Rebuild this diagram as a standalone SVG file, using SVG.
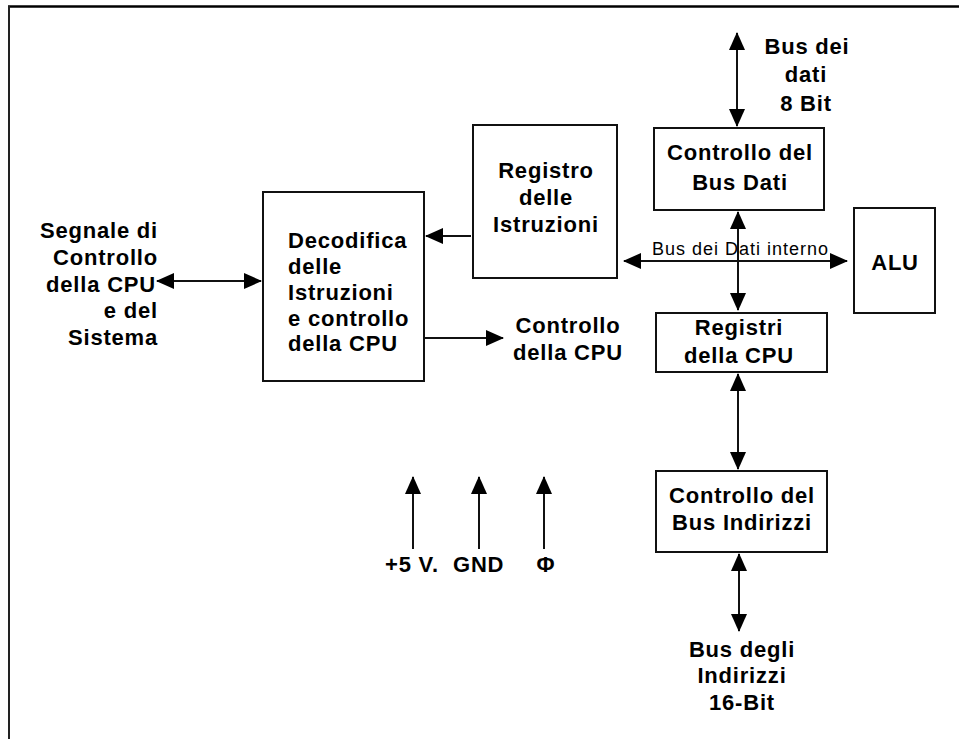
<svg xmlns="http://www.w3.org/2000/svg" width="959" height="739" viewBox="0 0 959 739">
  <style>
    .box { fill: #fff; stroke: #111; stroke-width: 2; }
    .wire { fill: none; stroke: #111; stroke-width: 2; }
    .lbl { font-family: "Liberation Sans", Arial, sans-serif; font-weight: bold; font-size: 22px; letter-spacing: 0.8px; fill: #000; }
    .mid { text-anchor: middle; }
    .end { text-anchor: end; }
    .small { font-family: "Liberation Sans", Arial, sans-serif; font-size: 18px; letter-spacing: 1px; fill: #000; }
  </style>
  <defs>
    <marker id="head" viewBox="0 0 18 16" refX="17" refY="8" markerWidth="18" markerHeight="16" markerUnits="userSpaceOnUse" orient="auto-start-reverse">
      <path d="M0,0 L18,8 L0,16 Z" fill="#000"/>
    </marker>
  </defs>

  <rect width="959" height="739" fill="#fff"/>

  <!-- frame -->
  <g id="frame">
    <line x1="8" y1="6.5" x2="959" y2="6.5" stroke="#000" stroke-width="2.5"/>
    <line x1="9" y1="6" x2="9" y2="739" stroke="#222" stroke-width="2"/>
  </g>

  <!-- connectors -->
  <g id="connectors">
    <!-- external data bus -->
    <line class="wire" x1="737" y1="33" x2="737" y2="126" marker-start="url(#head)" marker-end="url(#head)"/>
    <!-- internal data bus -->
    <line class="wire" x1="624" y1="261" x2="847" y2="261" marker-start="url(#head)" marker-end="url(#head)"/>
    <line class="wire" x1="738" y1="261" x2="738" y2="212" marker-end="url(#head)"/>
    <line class="wire" x1="738" y1="261" x2="738" y2="310" marker-end="url(#head)"/>
    <!-- instruction register to decoder -->
    <line class="wire" x1="471" y1="236" x2="426" y2="236" marker-end="url(#head)"/>
    <!-- system control signals -->
    <line class="wire" x1="157" y1="281" x2="261" y2="281" marker-start="url(#head)" marker-end="url(#head)"/>
    <!-- CPU control out -->
    <line class="wire" x1="424" y1="338" x2="503" y2="338" marker-end="url(#head)"/>
    <!-- registers to address bus control -->
    <line class="wire" x1="738" y1="374" x2="738" y2="469" marker-start="url(#head)" marker-end="url(#head)"/>
    <!-- external address bus -->
    <line class="wire" x1="739" y1="554" x2="739" y2="631" marker-start="url(#head)" marker-end="url(#head)"/>
    <!-- power and clock -->
    <line class="wire" x1="413" y1="549" x2="413" y2="477" marker-end="url(#head)"/>
    <line class="wire" x1="479" y1="549" x2="479" y2="477" marker-end="url(#head)"/>
    <line class="wire" x1="544" y1="549" x2="544" y2="477" marker-end="url(#head)"/>
  </g>

  <g id="bus-dati">
    <rect class="box" x="654" y="128" width="170" height="82"/>
    <text class="lbl mid" x="740" y="160">Controllo del</text>
    <text class="lbl mid" x="740" y="190">Bus Dati</text>
  </g>

  <g id="registro-istruzioni">
    <rect class="box" x="473" y="125" width="144" height="153"/>
    <text class="lbl mid" x="546" y="178">Registro</text>
    <text class="lbl mid" x="546" y="205">delle</text>
    <text class="lbl mid" x="546" y="232">Istruzioni</text>
  </g>

  <g id="decodifica">
    <rect class="box" x="263" y="192" width="161" height="189"/>
    <text class="lbl" x="288" y="248">Decodifica</text>
    <text class="lbl" x="288" y="274">delle</text>
    <text class="lbl" x="288" y="300">Istruzioni</text>
    <text class="lbl" x="288" y="326">e controllo</text>
    <text class="lbl" x="288" y="351">della CPU</text>
  </g>

  <g id="alu">
    <rect class="box" x="854" y="208" width="81" height="105"/>
    <text class="lbl mid" x="895" y="270">ALU</text>
  </g>

  <g id="registri-cpu">
    <rect class="box" x="656" y="313" width="171" height="59"/>
    <text class="lbl mid" x="739" y="335">Registri</text>
    <text class="lbl mid" x="739" y="363">della CPU</text>
  </g>

  <g id="bus-indirizzi">
    <rect class="box" x="656" y="471" width="171" height="81"/>
    <text class="lbl mid" x="742" y="503">Controllo del</text>
    <text class="lbl mid" x="742" y="530">Bus Indirizzi</text>
  </g>

  <!-- free labels -->
  <g id="labels">
    <text class="lbl mid" x="807" y="54">Bus dei</text>
    <text class="lbl mid" x="806" y="82">dati</text>
    <text class="lbl mid" x="806" y="111">8 Bit</text>

    <text class="small" x="652" y="255">Bus dei Dati interno</text>

    <text class="lbl end" x="158" y="238">Segnale di</text>
    <text class="lbl end" x="158" y="265">Controllo</text>
    <text class="lbl end" x="156" y="292">della CPU</text>
    <text class="lbl end" x="158" y="318">e del</text>
    <text class="lbl end" x="158" y="345">Sistema</text>

    <text class="lbl mid" x="568" y="333">Controllo</text>
    <text class="lbl mid" x="568" y="360">della CPU</text>

    <text class="lbl" x="385" y="572">+5 V.</text>
    <text class="lbl" x="453" y="572">GND</text>
    <text class="lbl mid" x="546" y="572">Φ</text>

    <text class="lbl mid" x="742" y="657">Bus degli</text>
    <text class="lbl mid" x="742" y="683">Indirizzi</text>
    <text class="lbl mid" x="742" y="710">16-Bit</text>
  </g>
</svg>
